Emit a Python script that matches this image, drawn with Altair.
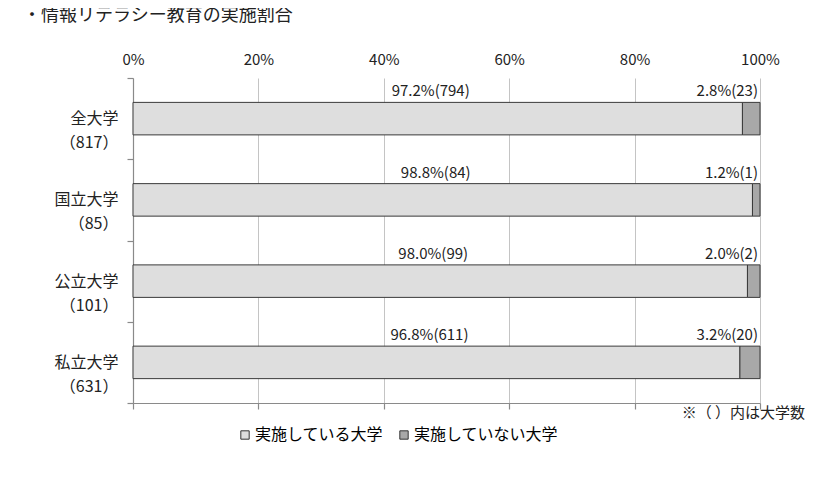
import altair as alt
import pandas as pd

# 大学区分と母数
categories = ["全大学", "国立大学", "公立大学", "私立大学"]
totals = [817, 85, 101, 631]
statuses = ["実施している大学", "実施していない大学"]

done_pct = [97.2, 98.8, 98.0, 96.8]
done_cnt = [794, 84, 99, 611]
not_pct = [2.8, 1.2, 2.0, 3.2]
not_cnt = [23, 1, 2, 20]

rows = []
for i, c in enumerate(categories):
    lab = f"{c}|（{totals[i]}）"
    rows.append({"cat": lab, "status": statuses[0], "pct": done_pct[i], "cnt": done_cnt[i], "ord": 0})
    rows.append({"cat": lab, "status": statuses[1], "pct": not_pct[i], "cnt": not_cnt[i], "ord": 1})
df = pd.DataFrame(rows)
df["label"] = df["pct"].map(lambda v: f"{v:.1f}%") + "(" + df["cnt"].astype(str) + ")"

font = "Noto Sans CJK JP"
cat_order = [f"{c}|（{t}）" for c, t in zip(categories, totals)]
xscale = alt.Scale(domain=[0, 100])
axis_grey = "#8a8a8a"

y_axis = alt.Axis(labelExpr="split(datum.label, '|')", tickBand="extent",
                  tickSize=6, labelPadding=9, labelFontSize=16,
                  labelLineHeight=24, labelColor="#222", domain=True,
                  domainColor=axis_grey, domainWidth=1.2, tickColor=axis_grey,
                  tickWidth=1.2)
y_enc = alt.Y("cat:N", sort=cat_order, title=None,
              scale=alt.Scale(paddingInner=0, paddingOuter=0), axis=y_axis)

base = alt.Chart(df)

bars = base.mark_bar(stroke="#3a3a3a", strokeWidth=1,
                     height=alt.RelativeBandSize(0.4)).encode(
    x=alt.X("pct:Q", stack="zero", scale=xscale, title=None,
            axis=alt.Axis(orient="top", values=[0, 20, 40, 60, 80, 100],
                          labelExpr="datum.value + '%'", ticks=False, tickSize=0,
                          domain=False, grid=True, gridColor="#c4c4c4",
                          labelFlush=False, labelPadding=11, labelFontSize=15,
                          labelColor="#222")),
    y=y_enc,
    color=alt.Color("status:N", title=None,
                    scale=alt.Scale(domain=statuses, range=["#dedede", "#a8a8a8"]),
                    legend=alt.Legend(orient="none", legendX=104, legendY=349,
                                      direction="horizontal", symbolType="square",
                                      symbolSize=70, symbolStrokeColor="#333",
                                      symbolStrokeWidth=1, labelFontSize=16,
                                      labelFont=font, columnPadding=12,
                                      symbolOffset=0, labelOffset=2)),
    order=alt.Order("ord:Q"),
)

bottom_axis = base.mark_bar(opacity=0).encode(
    x=alt.X("pct:Q", stack="zero", scale=xscale, title=None,
            axis=alt.Axis(orient="bottom", values=[0, 20, 40, 60, 80, 100],
                          labels=False, grid=False, tickSize=6, domain=True,
                          domainColor=axis_grey, domainWidth=1.2,
                          tickColor=axis_grey, tickWidth=1.2)),
    y=y_enc,
)

y_text = alt.Y("cat:N", sort=cat_order, bandPosition=0.3, title=None, axis=y_axis)

done_text = base.transform_filter(alt.datum.ord == 0).transform_calculate(
    mid="datum.pct / 2"
).mark_text(baseline="bottom", dy=-3, dx=-7, fontSize=15, font=font, color="#222").encode(
    x=alt.X("mid:Q", scale=xscale, axis=None), y=y_text, text="label:N"
)

not_text = base.transform_filter(alt.datum.ord == 1).transform_calculate(
    right="100"
).mark_text(baseline="bottom", align="right", dy=-3, dx=-2, fontSize=15, font=font,
            color="#222").encode(
    x=alt.X("right:Q", scale=xscale, axis=None), y=y_text, text="label:N"
)

title = alt.Chart(pd.DataFrame({"t": ["・情報リテラシー教育の実施割合"]})).mark_text(
    align="left", baseline="middle", fontSize=18, font=font, color="#222"
).encode(x=alt.value(-110), y=alt.value(-62), text="t:N")

note = alt.Chart(pd.DataFrame({"t": ["※（ ）内は大学数"]})).mark_text(
    align="right", baseline="middle", fontSize=15, font=font, color="#222"
).encode(x=alt.value(672), y=alt.value(335), text="t:N")

chart = alt.layer(bars, bottom_axis, done_text, not_text, title, note).resolve_axis(
    x="independent"
).properties(
    width=627, height=325,
    autosize=alt.AutoSizeParams(type="none"),
    padding={"left": 125, "top": 70, "right": 58, "bottom": 70},
).configure(font=font).configure_view(stroke=None).configure_axis(labelFont=font)

chart.save("out.html", embed_options={"renderer": "svg", "actions": False})
